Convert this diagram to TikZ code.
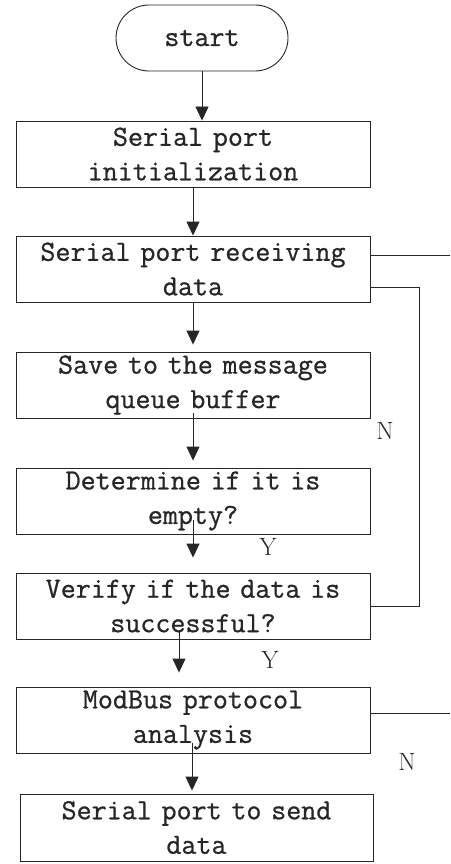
\documentclass[tikz,border=0pt]{standalone}
\usepackage{fontspec}
\newfontfamily\boxfont{Latin Modern Mono}[FakeBold=0.8]
\usetikzlibrary{shapes.misc,arrows.meta}
\begin{document}
\begin{tikzpicture}[x=1pt,y=-1pt,
  box/.style={draw=black!85,line width=0.9pt,rectangle,minimum width=354pt,minimum height=66pt,
    text width=350pt,align=center,inner sep=0pt,font=\boxfont\fontsize{29.2}{34.5}\selectfont,text=black!85},
  term/.style={draw=black!85,line width=0.9pt,rounded rectangle,minimum width=172pt,minimum height=66pt,
    inner sep=0pt,font=\boxfont\fontsize{29.2}{34.5}\selectfont,text=black!85},
  arr/.style={draw=black!85,line width=0.9pt,-{Triangle[width=13pt,length=14pt]}},
  ln/.style={draw=black!85,line width=0.9pt},
  lab/.style={font=\rmfamily\fontsize{25}{30}\selectfont,text=black!85,inner sep=0pt}]
\useasboundingbox (0,0) rectangle (450,864);
\node[term] (start) at (202,38) {start};
\node[box] (init) at (193,154) {Serial port\\initialization};
\node[box] (recv) at (193,269) {Serial port receiving\\data};
\node[box] (save) at (193,385) {Save to the message\\queue buffer};
\node[box] (det) at (193,501) {Determine if it is\\empty?};
\node[box] (ver) at (193,606) {Verify if the data is\\successful?};
\node[box] (mod) at (193,720) {ModBus protocol\\analysis};
\node[box,minimum width=353pt,minimum height=67pt] (send) at (196.5,827.5) {Serial port to send\\data};
\draw[arr] (start.south) -- (start.south |- init.north);
\draw[arr] (init.south) -- (recv.north);
\draw[arr,shorten >=7pt] (recv.south) -- (save.north);
\draw[arr,shorten <=-5pt,shorten >=7pt] (save.south) -- (det.north);
\draw[arr,shorten <=-14pt,shorten >=15pt] (det.south) -- (ver.north);
\draw[arr,shorten <=-9pt,shorten >=14pt] ([xshift=-14pt]ver.south) -- ([xshift=-14pt]mod.north);
\draw[arr,shorten <=-10pt,shorten >=3pt] ([xshift=-1pt]mod.south) -- ([xshift=-4.5pt]send.north);
\coordinate (e1) at (450,255);
\coordinate (e2) at (450,713);
\coordinate (loopx) at (419,287);
\draw[ln] (recv.east |- e1) -- (e1);
\draw[ln] (recv.east |- loopx) -- (loopx) |- (ver.east);
\draw[ln] (mod.east |- e2) -- (e2);
\node[lab] (n1) at (385,431) {N};
\node[lab] (y1) at (268,547) {Y};
\node[lab] (y2) at (270,660) {Y};
\node[lab] (n2) at (407,762) {N};
\end{tikzpicture}
\end{document}
